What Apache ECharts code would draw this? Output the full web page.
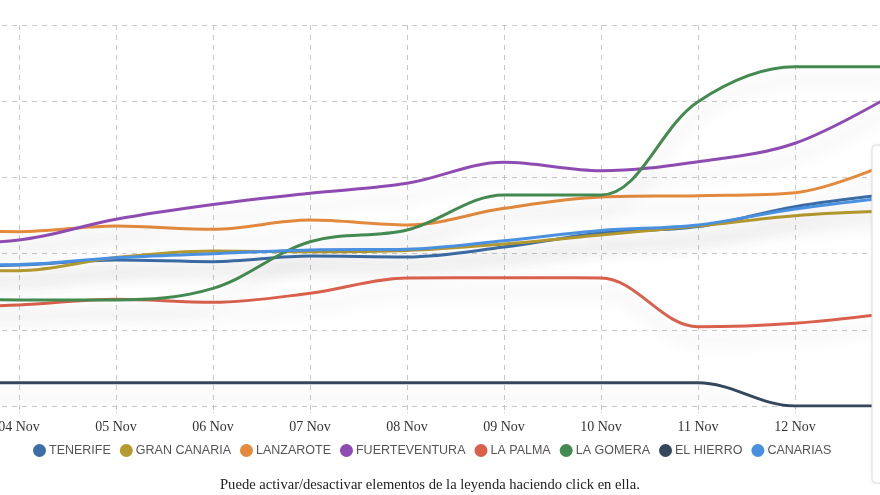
<!DOCTYPE html>
<html>
<head>
<meta charset="utf-8">
<script src="https://cdn.jsdelivr.net/npm/echarts@6/dist/echarts.min.js"></script>
<style>
html,body{margin:0;padding:0;background:#fff;}
#chart{width:880px;height:495px;}
</style>
</head>
<body>
<div id="chart"></div>
<script>
var categories = ["03 Nov","04 Nov","05 Nov","06 Nov","07 Nov","08 Nov","09 Nov","10 Nov","11 Nov","12 Nov","13 Nov"];
var tenerife      = [91.9, 92.5, 95.8, 94.7, 98.4, 97.8, 104.3, 113.5, 117.7, 130.8, 139.1];
var granCanaria   = [88.6, 88.8, 97.4, 101.7, 101.2, 102.0, 106.3, 112.2, 118.1, 124.9, 128.0];
var lanzarote     = [114.8, 114.4, 118.1, 115.9, 122.0, 118.8, 129.7, 137.1, 138.0, 140.0, 160.1];
var fuerteventura = [106.3, 108.9, 122.5, 132.2, 139.6, 146.1, 159.9, 154.4, 160.3, 172.4, 204.1];
var laPalma       = [64.6, 66.3, 70.0, 68.0, 74.0, 84.0, 84.2, 84.0, 52.0, 54.3, 61.0];
var laGomera      = [70.9, 69.6, 69.6, 77.2, 107.8, 115.5, 138.5, 138.5, 199.7, 222.6, 222.6];
var elHierro      = [15.3, 15.3, 15.3, 15.3, 15.3, 15.3, 15.3, 15.3, 15.3, 0, 0];
var canarias      = [92.5, 92.8, 97.3, 99.9, 102.4, 102.9, 108.5, 115.2, 118.8, 129.3, 137.1];
var seriesNames = ["TENERIFE","GRAN CANARIA","LANZAROTE","FUERTEVENTURA","LA PALMA","LA GOMERA","EL HIERRO","CANARIAS"];
var seriesData = [tenerife, granCanaria, lanzarote, fuerteventura, laPalma, laGomera, elHierro, canarias];
var colors = ["#3c6ea8","#b59a2f","#e38a3d","#8e4cb3","#d9604b","#438a50","#34475d","#4a90e0"];
var footnote = "Puede activar/desactivar elementos de la leyenda haciendo click en ella.";

var chart = echarts.init(document.getElementById('chart'), null, {renderer:'canvas'});
var series = seriesNames.map(function(n,i){
  return {
    name: n, type: 'line', data: seriesData[i], smooth: 0.35,
    symbol: 'none', showSymbol: false,
    lineStyle: {width: 3, color: colors[i], shadowColor: 'rgba(0,0,0,0.15)', shadowBlur: 18, shadowOffsetY: 14},
    itemStyle: {color: colors[i]},
    z: 3
  };
});
chart.setOption({
  animation: false,
  backgroundColor: '#fff',
  color: colors,
  grid: {left: -78, right: -12, top: 25, bottom: 89, containLabel: false, outerBoundsMode: 'none'},
  xAxis: {
    type: 'category', data: categories, boundaryGap: false,
    axisLine: {show: false},
    axisTick: {show: true, length: 7, lineStyle: {color: '#c8c8c8', type: 'dashed'}},
    axisLabel: {margin: 14, fontFamily: 'Liberation Serif', fontSize: 14, color: '#333'},
    splitLine: {show: true, lineStyle: {color: '#c8c8c8', type: [5,5], width: 1}}
  },
  yAxis: {
    type: 'value', min: 0, max: 250, interval: 50,
    axisLine: {show: false}, axisTick: {show: false},
    axisLabel: {show: false},
    splitLine: {show: true, lineStyle: {color: '#c8c8c8', type: [5,5], width: 1}}
  },
  legend: {
    data: seriesNames, top: 439, left: 28,
    icon: 'circle', itemWidth: 13, itemHeight: 13, itemGap: 9,
    textStyle: {fontFamily: 'Liberation Sans', fontSize: 12.5, color: '#555', padding: [0,0,0,-2]}
  },
  graphic: [
    {type: 'text', left: 220, top: 478, style: {text: footnote, font: '14.6px "Liberation Serif"', fill: '#222'}},
    {type: 'rect', shape: {x: 872, y: 145, width: 40, height: 338, r: 4}, style: {fill: '#fff', stroke: '#e2e2e2', lineWidth: 1, shadowBlur: 3, shadowColor: 'rgba(0,0,0,0.08)'}, z: 100}
  ],
  series: series
});
</script>
</body>
</html>
